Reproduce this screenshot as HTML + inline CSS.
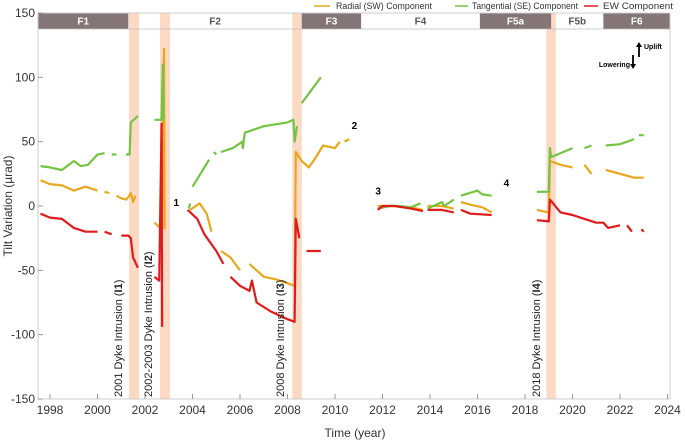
<!DOCTYPE html>
<html><head><meta charset="utf-8"><style>
body{margin:0;background:#fff;}
svg{display:block;font-family:"Liberation Sans","DejaVu Sans",sans-serif;}
</style></head><body>
<svg id="chart" width="685" height="441" viewBox="0 0 685 441" xmlns="http://www.w3.org/2000/svg">
<g id="bands"></g>
<g id="phases"></g>
<g id="axes"></g>
<g id="series"></g>
<g id="annot"></g>
<g font-size="9.5" fill="#333">
 <line x1="314" y1="6" x2="330" y2="6" stroke="#e8a81c" stroke-width="1.5"/>
 <text x="336" y="9" textLength="96" lengthAdjust="spacingAndGlyphs">Radial (SW) Component</text>
 <line x1="455" y1="6" x2="468" y2="6" stroke="#74c443" stroke-width="1.5"/>
 <text x="472" y="9" textLength="106" lengthAdjust="spacingAndGlyphs">Tangential (SE) Component</text>
 <line x1="584" y1="6" x2="598" y2="6" stroke="#e01b1b" stroke-width="1.5"/>
 <text x="603" y="9" textLength="70" lengthAdjust="spacingAndGlyphs">EW Component</text>
</g>
<g font-size="7" font-weight="bold" fill="#000">
 <line x1="639" y1="57" x2="639" y2="46" stroke="#000" stroke-width="1.8"/>
 <polygon points="636,47 642,47 639,42" fill="#000"/>
 <text x="644" y="49">Uplift</text>
 <line x1="633" y1="55" x2="633" y2="65" stroke="#000" stroke-width="1.8"/>
 <polygon points="630,64 636,64 633,69" fill="#000"/>
 <text x="630" y="67" text-anchor="end">Lowering</text>
</g>
<text x="355" y="437" text-anchor="middle" font-size="12" fill="#333">Time (year)</text>
<text transform="translate(12,206) rotate(-90)" text-anchor="middle" font-size="12" fill="#333">Tilt Variation (µrad)</text>
</svg>
<script>
const xTicks=[1998,2000,2002,2004,2006,2008,2010,2012,2014,2016,2018,2020,2022,2024];
const yTicks=[-150,-100,-50,0,50,100,150];
const phaseNames=['F1','F2','F3','F4','F5a','F5b','F6'];
const phaseStart=[1997.5,2001.3,2008.6,2011.1,2016.1,2019.1,2021.3];
const phaseEnd=[2001.3,2008.6,2011.1,2016.1,2019.1,2021.3,2024.2];
const phaseDark=[1,0,1,0,1,0,1];
const bandStart=[2001.33,2002.63,2008.2,2018.9];
const bandEnd=[2001.75,2003.05,2008.6,2019.3];
const bandLabels=['2001 Dyke Intrusion (','2002-2003 Dyke Intrusion (','2008 Dyke Intrusion (','2018 Dyke Intrusion ('];
const bandCodes=['I1','I2','I3','I4'];
const radialT=[1997.6,1998,1998.5,1999,1999.5,2000,null,2000.3,2000.5,null,2000.8,2001,2001.2,2001.3,2001.4,2001.5,2001.6,null,2002.4,2002.7,2002.8,2002.82,null,2003.9,2004.3,2004.6,2004.8,null,2005.2,2005.6,2006,null,2006.4,2007,2007.5,2008,2008.3,2008.35,2008.6,2008.9,2009.2,2009.5,2010,2010.2,null,2010.4,2010.6,null,2011.8,2012.5,2013.2,2013.7,null,2013.9,2014.5,2015,null,2015.3,2015.7,2016.2,2016.6,null,2018.5,2019,2019.05,2019.5,2020,null,2020.5,2020.8,null,2021.4,2022,2022.6,2023];
const radialV=[20,17,16,12,15,12,null,11,10,null,8,6,5,7,10,3,8,null,-13,-18,122,-18,null,-3,2,-6,-20,null,-35,-40,-50,null,-45,-55,-57,-60,-62,42,35,30,38,47,45,50,null,50,52,null,0,0,-1,-3,null,0,0,-2,null,3,1,-1,-5,null,-3,-5,35,32,30,null,32,25,null,28,25,22,22];
const tangT=[1997.6,1998,1998.5,1999,1999.3,1999.6,2000,2000.3,null,2000.6,2000.8,null,2001.2,2001.35,2001.4,2001.7,null,2002.4,2002.7,2002.75,2002.78,null,2003.85,2003.9,null,2004,2004.5,2004.7,null,2004.9,2005,null,2005.2,2005.7,2006.1,2006.12,2006.2,2007,2008,2008.25,2008.3,2008.4,null,2008.6,2009,2009.4,null,2011.8,2012.3,2012.7,2013.2,2013.6,null,2013.9,2014.5,2014.6,2015,null,2015.3,2016,2016.2,2016.6,null,2018.5,2019,2019.05,2019.1,2020,null,2020.5,2020.8,null,2021.4,2022,2022.6,null,2022.8,2023];
const tangV=[31,30,28,35,31,32,40,41,null,40,40,null,40,40,65,70,null,67,67,110,67,null,-2,2,null,15,30,36,null,42,40,null,42,45,50,45,57,62,65,67,50,62,null,80,90,100,null,-2,0,0,-1,2,null,-2,3,0,5,null,8,12,9,8,null,11,11,45,38,45,null,45,47,null,47,48,52,null,55,55];
const ewT=[1997.6,1998,1998.5,1999,1999.5,2000,null,2000.3,2000.6,null,2001,2001.3,2001.4,2001.5,2001.7,null,2002.4,2002.6,2002.7,2002.72,null,2003.8,2004.2,2004.5,2005,2005.3,null,2005.6,2006,2006.4,2006.5,2006.7,2007.3,2008,2008.3,2008.35,2008.5,null,2008.8,2009.4,null,2011.8,2012,2012.5,2013.2,2013.7,null,2013.9,2014.5,2015,null,2015.3,2015.7,2016.6,null,2018.5,2019,2019.05,2019.5,2020,2020.5,2021,2021.3,2021.5,2022,null,2022.3,2022.5,null,2022.9,2023];
const ewV=[-6,-9,-10,-17,-20,-20,null,-20,-22,null,-23,-23,-25,-40,-48,null,-55,-58,64,-94,null,-3,-10,-22,-35,-45,null,-55,-62,-66,-58,-75,-82,-88,-90,-10,-25,null,-35,-35,null,-3,0,0,-2,-4,null,-3,-3,-5,null,-3,-6,-7,null,-11,-12,5,-5,-7,-10,-13,-13,-17,-15,null,-15,-20,null,-18,-20];
const pointNums=['1','2','3','4'];
const pointT=[2003.2,2010.7,2011.7,2017.1];
const pointV=[0,60,9,15];

const NS='http://www.w3.org/2000/svg';
const L=38,R=670,T=13,B=399;
const xs=t=>50+(t-1998)*23.75;
const ys=v=>206-v*1.2867;
function mk(tag,attrs,parent){const e=document.createElementNS(NS,tag);for(const k in attrs)e.setAttribute(k,attrs[k]);parent.appendChild(e);return e;}
const bands=document.getElementById('bands'),phases=document.getElementById('phases'),axes=document.getElementById('axes'),series=document.getElementById('series'),annot=document.getElementById('annot');

mk('rect',{x:L,y:T,width:R-L,height:B-T,fill:'none',stroke:'#ccc','stroke-width':1},axes);
bandStart.forEach((s,i)=>{
 const r=mk('rect',{x:xs(s),y:T,width:xs(bandEnd[i])-xs(s),height:B-T,fill:'#fcd9c4'},bands);
 
 
});
phaseNames.forEach((n,i)=>{
 const x0=Math.max(xs(phaseStart[i]),L),x1=Math.min(xs(phaseEnd[i]),R);
 if(phaseDark[i]){const r=mk('rect',{x:x0,y:T,width:x1-x0,height:16,fill:'#847676'},phases);
  
  }
 const t=mk('text',{x:(x0+x1)/2,y:T+11.5,'text-anchor':'middle','font-size':10,'font-weight':'bold',fill:phaseDark[i]?'#fff':'#555'},phases);
 t.textContent=n;
 
 
});
mk('line',{x1:L,y1:T+16,x2:R,y2:T+16,stroke:'#bbb','stroke-width':0.8},phases);
xTicks.forEach(t=>{
 const x=xs(t);
 mk('line',{x1:x,y1:B,x2:x,y2:B-5,stroke:'#999'},axes);
 const e=mk('text',{x:x,y:B+15,'text-anchor':'middle','font-size':12,fill:'#333'},axes);
 e.textContent=t;
 
 
});
yTicks.forEach(v=>{
 const y=ys(v);
 mk('line',{x1:L,y1:y,x2:L+5,y2:y,stroke:'#999'},axes);
 const e=mk('text',{x:L-3,y:y+4,'text-anchor':'end','font-size':12,fill:'#333'},axes);
 e.textContent=v;
 
 
});
function drawSeries(T_,V_,color,name){
 let d='',pen=false;
 T_.forEach((t,i)=>{if(t===null||V_[i]===null){pen=false;return;}
  d+=(pen?'L':'M')+xs(t).toFixed(1)+' '+ys(V_[i]).toFixed(1);pen=true;});
 const p=mk('path',{d:d,fill:'none',stroke:color,'stroke-width':2.2,'stroke-linejoin':'round'},series);
 
 
}
drawSeries(radialT,radialV,'#e8a81c','radial-sw-line');
drawSeries(tangT,tangV,'#74c443','tangential-se-line');
drawSeries(ewT,ewV,'#e01b1b','ew-line');
const bandLabelX=[122,152,284,540];
bandLabels.forEach((s,i)=>{
 const t=mk('text',{transform:'translate('+bandLabelX[i]+',397) rotate(-90)','font-size':11,fill:'#222'},annot);
 t.textContent=s;
 const b=mk('tspan',{'font-weight':'bold'},t);b.textContent=bandCodes[i];
 const c=mk('tspan',{},t);c.textContent=')';
 
 
});
pointNums.forEach((n,i)=>{
 const t=mk('text',{x:xs(pointT[i]),y:ys(pointV[i]),'font-size':10,'font-weight':'bold',fill:'#000'},annot);
 t.textContent=n;
 
 
});
</script>
</body></html>
